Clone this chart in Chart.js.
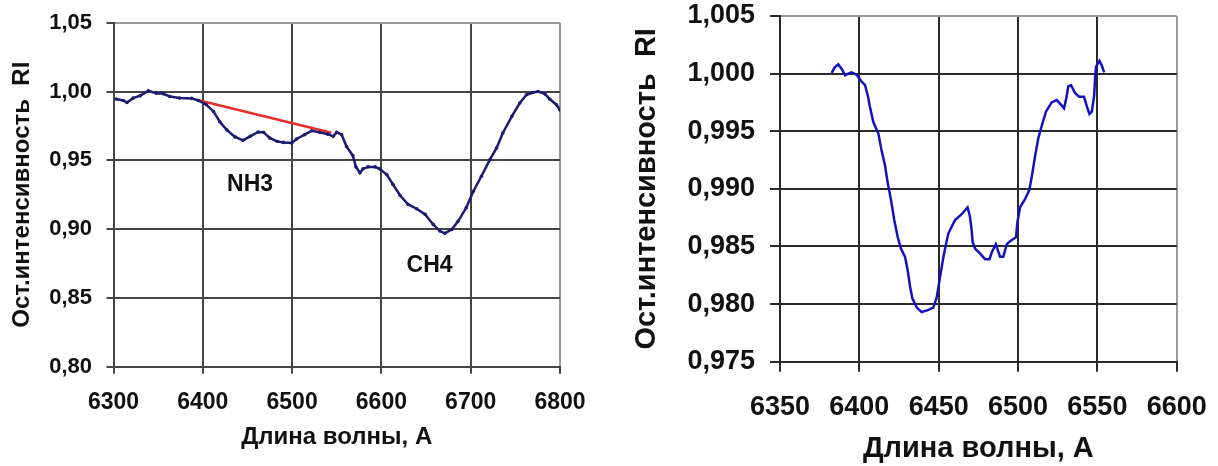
<!DOCTYPE html>
<html>
<head>
<meta charset="utf-8">
<script src="https://cdn.jsdelivr.net/npm/chart.js@4"></script>
<style>
  html, body { margin: 0; padding: 0; background: #fff; overflow: hidden; }
  #wrap { position: relative; width: 1218px; height: 466px; }
  canvas { position: absolute; top: 0; }
  #c1 { left: 0; }
  #c2 { left: 610px; }
</style>
</head>
<body>
<div id="wrap">
  <canvas id="c1" width="610" height="466"></canvas>
  <canvas id="c2" width="608" height="466"></canvas>
</div>
<script>
// ---------- Left chart data ----------
const leftWavelength = [6303, 6311, 6315, 6322, 6330, 6339, 6348, 6356, 6363, 6374, 6387.5, 6395, 6404, 6412, 6419, 6427, 6436, 6445, 6453, 6462, 6468, 6475, 6483, 6490, 6499.5, 6505, 6514, 6522, 6531, 6540, 6546, 6550, 6555.5, 6561, 6568, 6571.5, 6576, 6579.5, 6585, 6593, 6598, 6606, 6613, 6621, 6630, 6639.5, 6649, 6658, 6665.5, 6671, 6679, 6686, 6695, 6703, 6712, 6721.5, 6729, 6736, 6746, 6755, 6762.5, 6770, 6775.5, 6783, 6788.5, 6796, 6800];
const leftIntensity = [0.9945, 0.9935, 0.992, 0.9952, 0.997, 1.0005, 0.9988, 0.9983, 0.9964, 0.9952, 0.995, 0.9935, 0.9904, 0.9855, 0.978, 0.972, 0.967, 0.9645, 0.9674, 0.9706, 0.9703, 0.9662, 0.9638, 0.963, 0.9626, 0.9655, 0.9686, 0.9715, 0.9703, 0.969, 0.9674, 0.9703, 0.9686, 0.960, 0.9534, 0.9452, 0.9409, 0.9438, 0.9452, 0.9452, 0.9438, 0.9396, 0.9324, 0.9244, 0.9179, 0.9148, 0.9107, 0.9034, 0.8986, 0.8969, 0.8998, 0.9058, 0.9155, 0.9275, 0.9384, 0.9505, 0.959, 0.9699, 0.9819, 0.9916, 0.9976, 0.9993, 1.000, 0.9983, 0.9945, 0.9904, 0.9865];
const continuumWavelength = [6393, 6544];
const continuumIntensity = [0.9940, 0.9700];
const leftXTicks = [6300, 6400, 6500, 6600, 6700, 6800];
const leftYTicks = [0.80, 0.85, 0.90, 0.95, 1.00, 1.05];
const leftLabels = [
  { text: 'NH3', x: 6453, y: 0.9324 },
  { text: 'CH4', x: 6654, y: 0.8737 }
];

// ---------- Right chart data ----------
const rightWavelength = [6382.6, 6384.2, 6386.7, 6388.9, 6391, 6393, 6395, 6398.3, 6401.5, 6403.6, 6405.3, 6406.7, 6408.8, 6412, 6414, 6416.2, 6417.9, 6420, 6422, 6424.2, 6426.3, 6428.8, 6430.5, 6432, 6433.4, 6436.2, 6439.3, 6443.5, 6446.6, 6448.8, 6450.8, 6453, 6456, 6460.3, 6464.5, 6468.2, 6469.7, 6470.8, 6471.4, 6473, 6476, 6479.2, 6482, 6483.5, 6486, 6488.7, 6490.7, 6492.9, 6495.4, 6498.7, 6499.6, 6501.3, 6504.4, 6507.1, 6508.6, 6510.7, 6512.8, 6515, 6517.6, 6521.2, 6524.4, 6526.5, 6529, 6530.3, 6531.7, 6533.4, 6536, 6538.6, 6541.6, 6543.3, 6545, 6546.5, 6548, 6548.6, 6549.2, 6551.3, 6552.8, 6554.3];
const rightIntensity = [1.00005, 1.0005, 1.0008, 1.0004, 0.99985, 1.0000, 1.0001, 0.9999, 0.9993, 0.9990, 0.9981, 0.9971, 0.9958, 0.9948, 0.99334, 0.9920, 0.9905, 0.9890, 0.9873, 0.9858, 0.9848, 0.9841, 0.9829, 0.9815, 0.9805, 0.9797, 0.9793, 0.9795, 0.9797, 0.9806, 0.9823, 0.9841, 0.9861, 0.9873, 0.9878, 0.9884, 0.9876, 0.9864, 0.9854, 0.9848, 0.9844, 0.9839, 0.9839, 0.9845, 0.9852, 0.9841, 0.9841, 0.9852, 0.9855, 0.9858, 0.9871, 0.9884, 0.9891, 0.9899, 0.9910, 0.9928, 0.9944, 0.9955, 0.9967, 0.9975, 0.9977, 0.9974, 0.9970, 0.9978, 0.9989, 0.9990, 0.9983, 0.9980, 0.9980, 0.9972, 0.9965, 0.9967, 0.9981, 0.9997, 1.0006, 1.0011, 1.0007, 1.0001];
const rightXTicks = [6350, 6400, 6450, 6500, 6550, 6600];
const rightYTicks = [0.975, 0.980, 0.985, 0.990, 0.995, 1.000, 1.005];

const xTitle = 'Длина волны, А';
const yTitle = 'Ост.интенсивность  RI';

const FAMILY = '"Liberation Sans", Arial, sans-serif';
const TEXT = '#111';

function pts(xs, ys) { return xs.map((x, i) => ({ x: x, y: ys[i] })); }
function commaFmt(dec) { return v => Number(v).toFixed(dec).replace('.', ','); }

const labelPlugin = {
  id: 'textLabels',
  afterDatasetsDraw(chart, args, opts) {
    const items = opts.items || [];
    const ctx = chart.ctx;
    ctx.save();
    ctx.font = 'bold ' + opts.size + 'px ' + FAMILY;
    ctx.fillStyle = TEXT;
    ctx.textAlign = 'center';
    ctx.textBaseline = 'middle';
    items.forEach(it => {
      ctx.fillText(it.text, chart.scales.x.getPixelForValue(it.x), chart.scales.y.getPixelForValue(it.y));
    });
    ctx.restore();
  }
};

function makeChart(id, cfg) {
  const nx = cfg.xTicks.length, ny = cfg.yTicks.length;
  return new Chart(document.getElementById(id), {
    type: 'scatter',
    data: { datasets: cfg.datasets },
    plugins: [labelPlugin],
    options: {
      responsive: false,
      animation: false,
      devicePixelRatio: 1,
      layout: { padding: cfg.padding },
      plugins: {
        legend: { display: false },
        tooltip: { enabled: false },
        textLabels: { items: cfg.labels || [], size: cfg.labelSize || 23 }
      },
      scales: {
        x: {
          type: 'linear',
          min: cfg.xTicks[0], max: cfg.xTicks[nx - 1],
          afterBuildTicks: s => { s.ticks = cfg.xTicks.map(v => ({ value: v })); },
          afterFit: s => { s.height = cfg.xHeight; s.paddingLeft = 0; s.paddingRight = 0; },
          grid: {
            color: c => c.index === nx - 1 ? '#9a9a9a' : cfg.gridColor,
            lineWidth: 2,
            tickLength: cfg.tickLen,
            tickColor: cfg.gridColor
          },
          border: { color: cfg.gridColor, width: 2 },
          ticks: {
            color: TEXT, padding: cfg.xTickPad, maxRotation: 0, autoSkip: false,
            font: { family: FAMILY, size: cfg.xTickSize, weight: 'bold' },
            callback: v => String(v)
          },
          title: {
            display: true, text: xTitle, color: TEXT,
            font: { family: FAMILY, size: cfg.titleSize, weight: 'bold' },
            padding: { top: 0, bottom: cfg.xTitlePad }
          }
        },
        y: {
          type: 'linear',
          min: cfg.yTicks[0], max: cfg.yTicks[ny - 1],
          afterBuildTicks: s => { s.ticks = cfg.yTicks.map(v => ({ value: v })); },
          afterFit: s => { s.width = cfg.yWidth; s.paddingTop = 0; s.paddingBottom = 0; },
          grid: {
            color: c => c.index === ny - 1 ? '#9a9a9a' : cfg.gridColor,
            lineWidth: 2,
            tickLength: cfg.tickLen,
            tickColor: cfg.gridColor
          },
          border: { color: cfg.gridColor, width: 2 },
          ticks: {
            color: TEXT, padding: cfg.yTickPad, autoSkip: false,
            font: { family: FAMILY, size: cfg.yTickSize, weight: 'bold' },
            callback: commaFmt(cfg.yDec)
          },
          title: {
            display: true, text: yTitle, color: TEXT,
            font: { family: FAMILY, size: cfg.titleSize, weight: 'bold' },
            padding: { top: cfg.yTitlePad, bottom: 0 }
          }
        }
      }
    }
  });
}

makeChart('c1', {
  xTicks: leftXTicks, yTicks: leftYTicks, yDec: 2,
  padding: { left: 0, top: 22.7, right: 50, bottom: 0 },
  xHeight: 99.3, yWidth: 113.5, tickLen: 7,
  gridColor: '#454545',
  xTickPad: 15.5, yTickPad: 14.5, xTickSize: 23, yTickSize: 22,
  titleSize: 24, xTitlePad: 14.6, yTitlePad: 7.6,
  labels: leftLabels, labelSize: 23,
  datasets: [
    {
      data: pts(leftWavelength, leftIntensity),
      showLine: true, borderColor: '#1b1b72', borderWidth: 2.5,
      pointRadius: 1.8, pointBackgroundColor: '#1b1b72', pointBorderWidth: 0,
      tension: 0
    },
    {
      data: pts(continuumWavelength, continuumIntensity),
      showLine: true, borderColor: '#e3302a', borderWidth: 2.5,
      pointRadius: 0
    }
  ]
});

makeChart('c2', {
  xTicks: rightXTicks, yTicks: rightYTicks, yDec: 3,
  padding: { left: 0, top: 16, right: 41.3, bottom: 0 },
  xHeight: 104.3, yWidth: 170, tickLen: 10,
  gridColor: '#2a2a2a',
  xTickPad: 20, yTickPad: 15, xTickSize: 27, yTickSize: 27,
  titleSize: 29, xTitlePad: 0, yTitlePad: 20,
  labels: [],
  datasets: [
    {
      data: pts(rightWavelength, rightIntensity),
      showLine: true, borderColor: '#1212c4', borderWidth: 2.5,
      pointRadius: 0, tension: 0
    }
  ]
});
</script>
</body>
</html>
